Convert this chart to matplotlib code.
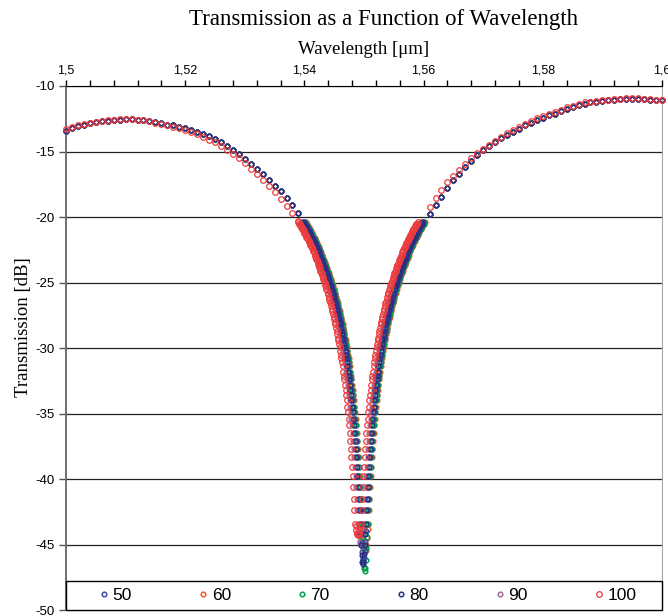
import matplotlib.pyplot as plt
import numpy as np
from matplotlib.patches import Rectangle

plt.rcParams['font.family'] = ['Liberation Sans', 'DejaVu Sans']
plt.rcParams['axes.unicode_minus'] = False

# --- data ---------------------------------------------------------------
series_names = ['50', '60', '70', '80', '90', '100']
series_colors = ['#3A4DA0', '#F15A29', '#00A14B', '#2B2E83', '#A46A9E', '#EE3B3B']
# drawing order (higher on top), legend keeps the series order
series_z = [3.3, 3.1, 3.2, 3.4, 3.0, 3.5]

# centre wavelength of the dip for each series [um]
dip_center = [1.5499, 1.5502, 1.5501, 1.5498, 1.5495, 1.5490]

# coarse sampling (1 nm) outside the dip
wl_left = np.round(np.arange(1.500, 1.5395, 0.001), 3)
wl_right = np.round(np.arange(1.561, 1.6005, 0.001), 3)

t_left = [-13.4, -13.2, -13.05, -12.95, -12.85, -12.75, -12.7, -12.65, -12.6, -12.6,
          -12.55, -12.55, -12.6, -12.6, -12.65, -12.75, -12.85, -12.95, -13.0, -13.1,
          -13.2, -13.35, -13.5, -13.7, -13.85, -14.05, -14.3, -14.6, -14.9, -15.2,
          -15.55, -15.95, -16.35, -16.75, -17.15, -17.6, -18.05, -18.55, -19.1, -19.7]
t_left_100 = [-13.3, -13.15, -13.0, -12.9, -12.8, -12.75, -12.65, -12.6, -12.6, -12.55,
              -12.55, -12.55, -12.6, -12.6, -12.7, -12.8, -12.9, -13.0, -13.1, -13.2,
              -13.35, -13.5, -13.7, -13.9, -14.1, -14.3, -14.55, -14.85, -15.2, -15.5,
              -15.9, -16.3, -16.75, -17.15, -17.6, -18.1, -18.6, -19.15, -19.7, -20.3]

t_right = [-19.8, -19.1, -18.45, -17.8, -17.2, -16.7, -16.2, -15.7, -15.3, -14.9,
           -14.6, -14.3, -14.0, -13.75, -13.5, -13.25, -13.0, -12.8, -12.6, -12.45,
           -12.25, -12.1, -11.9, -11.75, -11.6, -11.45, -11.35, -11.25, -11.2, -11.15,
           -11.1, -11.05, -11.0, -11.0, -11.0, -11.0, -11.0, -11.05, -11.05, -11.1]
t_right_100 = [-19.2, -18.55, -17.95, -17.35, -16.85, -16.4, -15.95, -15.5, -15.15, -14.8,
               -14.5, -14.2, -13.9, -13.6, -13.35, -13.1, -12.9, -12.65, -12.45, -12.3,
               -12.1, -11.95, -11.8, -11.6, -11.5, -11.35, -11.25, -11.2, -11.15, -11.1,
               -11.05, -11.0, -11.0, -10.95, -10.95, -10.95, -11.0, -11.0, -11.05, -11.05]

# fine sampling (0.1 nm) across the dip, offset from dip centre
notch_offset = np.arange(-100, 101) * 1e-4
# flank of the dip, 0.5 nm .. 10 nm from centre
notch_flank = [-43.4, -42.4, -41.5, -40.6, -39.8, -39.1, -38.3, -37.7, -37.1, -36.5,
               -35.9, -35.4, -34.9, -34.5, -34.0, -33.6, -33.2, -32.8, -32.4, -32.1,
               -31.8, -31.4, -31.1, -30.8, -30.5, -30.2, -29.9, -29.7, -29.4, -29.2,
               -28.9, -28.7, -28.5, -28.2, -28.0, -27.8, -27.6, -27.4, -27.2, -27.0,
               -26.8, -26.6, -26.5, -26.3, -26.1, -25.9, -25.8, -25.6, -25.5, -25.3,
               -25.2, -25.0, -24.9, -24.7, -24.6, -24.4, -24.3, -24.2, -24.1, -23.9,
               -23.8, -23.7, -23.6, -23.4, -23.3, -23.2, -23.1, -23.0, -22.9, -22.7,
               -22.6, -22.5, -22.4, -22.3, -22.2, -22.1, -22.0, -21.9, -21.8, -21.7,
               -21.6, -21.6, -21.5, -21.4, -21.3, -21.2, -21.1, -21.0, -20.9, -20.9,
               -20.8, -20.7, -20.6, -20.5, -20.5, -20.4]
# bottom of the dip, -0.4 nm .. +0.4 nm
core_50 = [-44.1, -44.9, -45.6, -46.0, -46.2, -46.0, -45.5, -44.8, -44.0]
core_60 = [-43.9, -44.6, -45.1, -45.4, -45.5, -45.4, -45.0, -44.5, -43.8]
core_70 = [-44.4, -45.3, -46.2, -46.8, -47.0, -46.8, -46.2, -45.3, -44.4]
core_80 = [-44.2, -45.0, -45.8, -46.3, -46.5, -46.3, -45.7, -45.0, -44.2]
core_90 = [-43.8, -44.3, -44.7, -44.9, -45.0, -44.9, -44.7, -44.3, -43.8]
core_100 = [-43.6, -43.9, -44.1, -44.2, -44.3, -44.2, -44.1, -43.9, -43.6]
cores = [core_50, core_60, core_70, core_80, core_90, core_100]

x_major = [1.50, 1.52, 1.54, 1.56, 1.58, 1.60]
x_major_labels = ['1,5', '1,52', '1,54', '1,56', '1,58', '1,6']
y_ticks = [-50, -45, -40, -35, -30, -25, -20, -15, -10]
y_tick_labels = ['-50', '-45', '-40', '-35', '-30', '-25', '-20', '-15', '-10']

# --- figure -------------------------------------------------------------
W, H = 668, 616
fig = plt.figure(figsize=(W / 100, H / 100), dpi=100)
ax = fig.add_axes([66 / W, 6 / H, 596 / W, 524 / H])

for name, color, z, c0, core in zip(series_names, series_colors, series_z,
                                    dip_center, cores):
    notch = notch_flank[::-1] + core + notch_flank
    tl = t_left_100 if name == '100' else t_left
    tr = t_right_100 if name == '100' else t_right
    wl = np.concatenate([wl_left, c0 + notch_offset, wl_right])
    t = np.concatenate([tl, notch, tr])
    big = name == '100'
    ax.plot(wl, t, 'o', ls='none', ms=4.0 if big else 3.3, mfc='none', mec=color,
            mew=0.9 if big else 1.1, label=name, clip_on=False, zorder=z)

ax.set_xlim(1.5, 1.6)
ax.set_ylim(-50, -10)

ax.xaxis.tick_top()
ax.set_xticks(x_major)
ax.set_xticklabels(x_major_labels)
ax.set_xticks(np.arange(1.5, 1.6001, 0.004), minor=True)
ax.set_yticks(y_ticks)
ax.set_yticklabels(y_tick_labels)
ax.tick_params(axis='x', which='both', direction='out', length=4, width=1, pad=3,
               labelsize=9, color='black')
ax.tick_params(axis='y', direction='out', length=5, width=1, pad=3, labelsize=9.5,
               color='#555555')

ax.yaxis.grid(True, color='#222222', lw=0.9)
ax.set_axisbelow(True)

ax.spines['top'].set_color('black')
ax.spines['bottom'].set_color('black')
ax.spines['left'].set_color('#666666')
ax.spines['left'].set_linewidth(1.3)
ax.spines['right'].set_color('#A8A8A8')

serif = ['Liberation Serif', 'DejaVu Serif']
fig.text(384 / W, 1 - 20 / H, 'Transmission as a Function of Wavelength',
         family=serif, fontsize=16.5, ha='center', va='center')
ax.xaxis.set_label_position('top')
ax.set_xlabel('Wavelength [μm]', family=serif, fontsize=13.5, va='center')
ax.xaxis.set_label_coords(0.5, 1 + 36 / 524)
ax.set_ylabel('Transmission [dB]', family=serif, fontsize=13.5, va='center')
ax.yaxis.set_label_coords(-42 / 596, 0.54)

# legend strip along the bottom of the plot area
ax.add_patch(Rectangle((0, 0), 1, 2.2 / 40, transform=ax.transAxes, fc='white',
                       ec='black', lw=1.0, zorder=4, clip_on=False))
leg = ax.legend(loc='center left', bbox_to_anchor=(0.049, 1.1 / 40), ncol=6,
                frameon=False, fontsize=12.5, handlelength=1.0, handletextpad=0.0,
                columnspacing=3.59, borderpad=0, borderaxespad=0)
leg.set_zorder(5)

fig.savefig('out.png', dpi=100)
